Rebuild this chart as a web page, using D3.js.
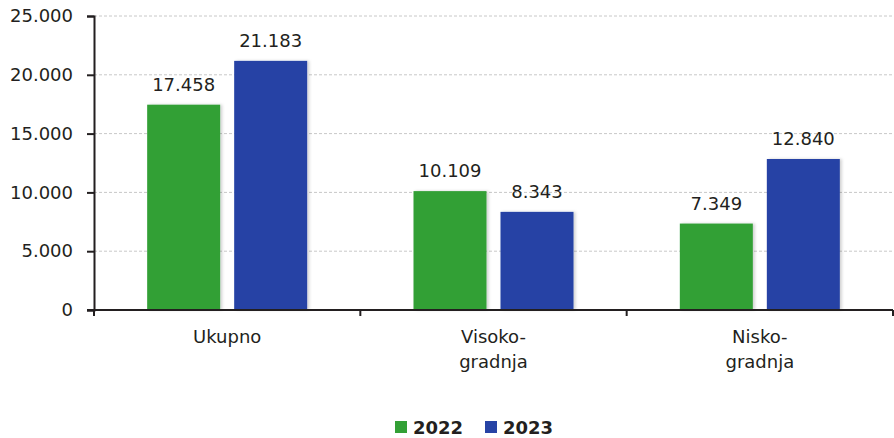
<!DOCTYPE html>
<html><head><meta charset="utf-8">
<script src="https://cdn.jsdelivr.net/npm/d3@7"></script>
<style>
body{margin:0;background:#fff;}
text{font-family:"DejaVu Sans",sans-serif;fill:#231f20;}
</style></head>
<body><svg id="c" width="894" height="438"></svg>
<script>
const categories = [["Ukupno"], ["Visoko-","gradnja"], ["Nisko-","gradnja"]];
const seriesNames = ["2022", "2023"];
const values2022 = [17458, 10109, 7349];
const values2023 = [21183, 8343, 12840];
const yTicks = [0, 5000, 10000, 15000, 20000, 25000];
const colors = ["#33a036", "#2743a5"];

(function(){
const fmt = v => d3.format(",")(v).replace(/,/g, ".");
const svg = d3.select("#c");
const mLeft = 94, mRight = 893, mTop = 16, mBottom = 310;

const defs = svg.append("defs");
const f = defs.append("filter").attr("id","sh").attr("x","-10%").attr("y","-10%").attr("width","130%").attr("height","130%");
f.append("feDropShadow").attr("dx",2).attr("dy",0).attr("stdDeviation",1.5).attr("flood-color","#000").attr("flood-opacity",0.18);

const x = d3.scaleBand().domain(d3.range(categories.length)).range([mLeft, mRight]).paddingInner(0).paddingOuter(0);
const y = d3.scaleLinear().domain([0, 25000]).range([mBottom, mTop]);
const xs = d3.scaleBand().domain(seriesNames).range([0, x.bandwidth()]).paddingInner(0.161).paddingOuter(0.611);

// gridlines
svg.append("g").selectAll("line").data(yTicks.filter(t=>t>0)).join("line")
  .attr("x1", mLeft).attr("x2", mRight).attr("y1", d=>y(d)).attr("y2", d=>y(d))
  .attr("stroke", "#c8c8c8").attr("stroke-width",1).attr("stroke-dasharray","3,2");

// bars
const data = [values2022, values2023];
const g = svg.append("g");
categories.forEach((c, i) => {
  seriesNames.forEach((s, j) => {
    const v = data[j][i];
    g.append("rect").attr("x", x(i) + xs(s)).attr("width", xs.bandwidth())
      .attr("y", y(v)).attr("height", y(0) - y(v)).attr("fill", colors[j]).attr("filter","url(#sh)");
    g.append("text").attr("x", x(i) + xs(s) + xs.bandwidth()/2).attr("y", y(v) - 14)
      .attr("text-anchor","middle").attr("font-size", 18).text(fmt(v));
  });
});

// y axis
const ya = svg.append("g").attr("transform", `translate(${mLeft},0)`)
  .call(d3.axisLeft(y).tickValues(yTicks).tickFormat(fmt).tickSize(7).tickPadding(14));
ya.select(".domain").attr("stroke","#231f20").attr("stroke-width",2);
ya.selectAll(".tick line").attr("stroke","#231f20").attr("stroke-width",2);
ya.selectAll(".tick text").attr("font-size",18).attr("font-family","DejaVu Sans").attr("fill","#231f20");

// x axis
svg.append("line").attr("x1", mLeft-7).attr("x2", mRight).attr("y1", mBottom).attr("y2", mBottom)
  .attr("stroke","#231f20").attr("stroke-width",2);
const xt = d3.range(categories.length+1).map(i => i < categories.length ? x(i) : x(categories.length-1)+x.bandwidth());
svg.append("g").selectAll("line").data(xt).join("line")
  .attr("x1", d=>d).attr("x2", d=>d).attr("y1", mBottom).attr("y2", mBottom+6)
  .attr("stroke","#231f20").attr("stroke-width",2);
categories.forEach((lines, i) => {
  const t = svg.append("text").attr("text-anchor","middle").attr("font-size",18)
    .attr("x", x(i) + x.bandwidth()/2).attr("y", 343);
  lines.forEach((l, k) => t.append("tspan").attr("x", x(i)+x.bandwidth()/2).attr("dy", k===0?0:25).text(l));
});

// legend
const leg = svg.append("g");
const legX = [395, 485];
seriesNames.forEach((s, j) => {
  leg.append("rect").attr("x", legX[j]).attr("y", 421).attr("width", 12).attr("height", 12).attr("fill", colors[j]);
  leg.append("text").attr("x", legX[j] + 18).attr("y", 434).attr("font-size",18).attr("font-weight","bold").text(s);
});
})();
</script></body></html>
